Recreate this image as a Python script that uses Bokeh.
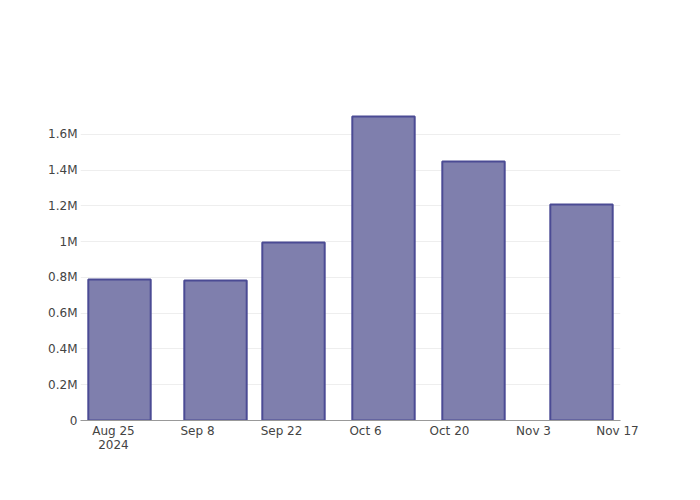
import datetime as dt
from bokeh.plotting import figure
from bokeh.models import ColumnDataSource, Range1d, FixedTicker
from bokeh.embed import file_html
from bokeh.resources import INLINE

dates = ["2024-08-26", "2024-09-11", "2024-09-24", "2024-10-09", "2024-10-24", "2024-11-11"]
values = [789000, 783000, 996000, 1700000, 1449000, 1208000]
x_tick_dates = ["2024-08-25", "2024-09-08", "2024-09-22", "2024-10-06", "2024-10-20", "2024-11-03", "2024-11-17"]
x_tick_labels = ["Aug 25\n2024", "Sep 8", "Sep 22", "Oct 6", "Oct 20", "Nov 3", "Nov 17"]
y_ticks = [0, 200000, 400000, 600000, 800000, 1000000, 1200000, 1400000, 1600000]
y_tick_labels = ["0", "0.2M", "0.4M", "0.6M", "0.8M", "1M", "1.2M", "1.4M", "1.6M"]


def ms(s):
    d = dt.datetime.strptime(s, "%Y-%m-%d").replace(tzinfo=dt.timezone.utc)
    return d.timestamp() * 1000.0


xs = [ms(d) for d in dates]
day = 86400000.0
src = ColumnDataSource(dict(x=xs, top=values))

p = figure(width=700, height=500, x_axis_type="datetime", output_backend="svg",
           toolbar_location=None,
           x_range=Range1d(ms("2024-08-19") + day / 2, ms("2024-11-17") + day / 2),
           y_range=Range1d(0, 1790000),
           min_border_left=80, min_border_right=80, min_border_top=100, min_border_bottom=80)
p.outline_line_color = None
p.background_fill_color = "white"
p.border_fill_color = "white"

p.vbar(x="x", top="top", width=10.4 * day, source=src,
       fill_color="#7f7fad", fill_alpha=1.0, line_color="#4b4b94", line_width=2)

tx = [ms(d) for d in x_tick_dates]
p.xaxis.ticker = FixedTicker(ticks=tx)
p.xaxis.major_label_overrides = {t: l for t, l in zip(tx, x_tick_labels)}
p.xaxis.axis_line_color = "#999999"
p.xaxis.axis_line_width = 1
p.xaxis.major_tick_line_color = None
p.xaxis.minor_tick_line_color = None
p.xaxis.major_label_standoff = -3
p.xaxis.major_label_text_font = "DejaVu Sans"
p.xaxis.major_label_text_font_size = "12px"
p.xaxis.major_label_text_color = "#444444"
p.xaxis.major_label_text_line_height = 1.0

p.yaxis.ticker = FixedTicker(ticks=y_ticks)
p.yaxis.major_label_overrides = {t: l for t, l in zip(y_ticks, y_tick_labels)}
p.yaxis.axis_line_color = None
p.yaxis.major_tick_line_color = None
p.yaxis.minor_tick_line_color = None
p.yaxis.major_label_standoff = -3
p.yaxis.major_label_text_font = "DejaVu Sans"
p.yaxis.major_label_text_font_size = "12px"
p.yaxis.major_label_text_color = "#444444"

p.xgrid.grid_line_color = None
p.ygrid.grid_line_color = "#eeeeee"
p.ygrid.grid_line_width = 1

open("out.html", "w").write(file_html(p, INLINE))
